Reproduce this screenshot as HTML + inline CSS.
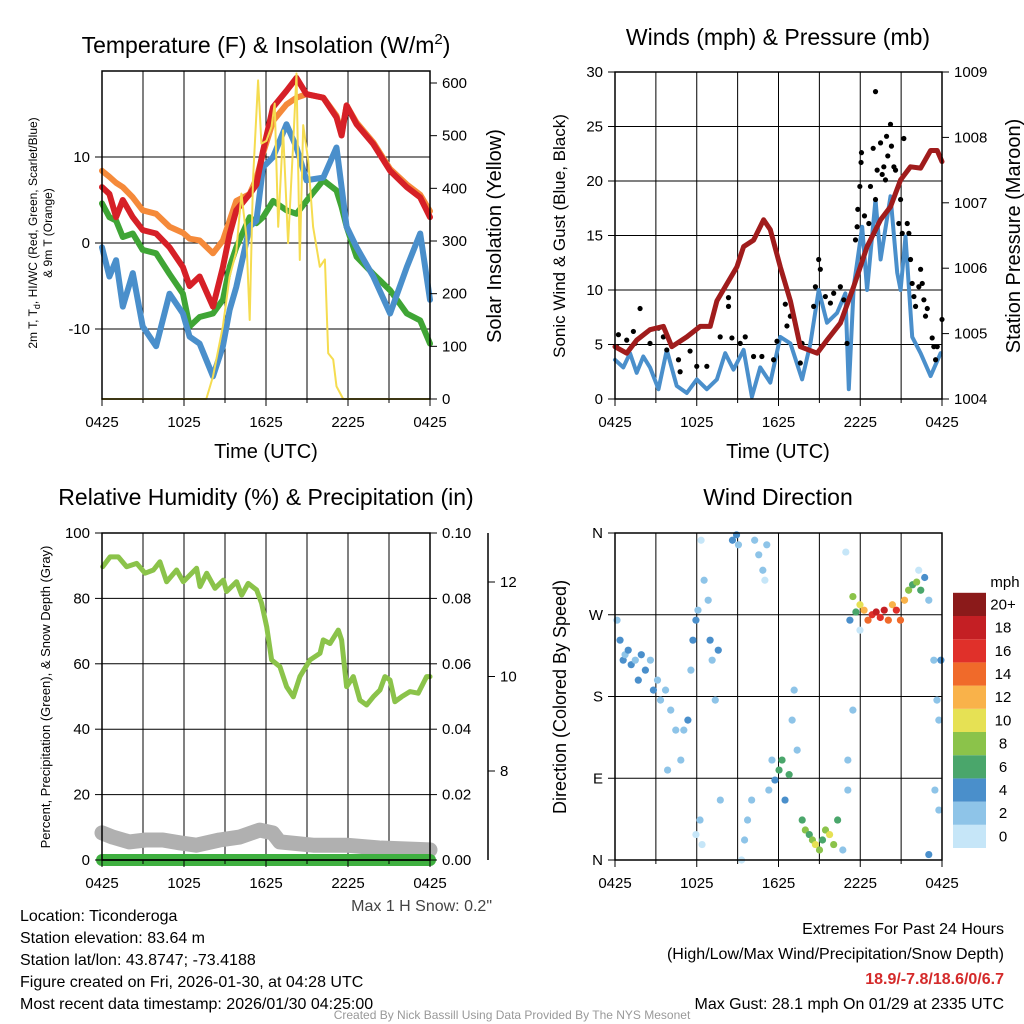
<!DOCTYPE html>
<html><head><meta charset="utf-8">
<style>
body{margin:0;background:#fff;}
svg{display:block;font-family:"Liberation Sans",sans-serif;}
</style></head>
<body>
<svg id="s" width="1024" height="1024" viewBox="0 0 1024 1024" xmlns="http://www.w3.org/2000/svg">
<rect width="1024" height="1024" fill="#fff"/>
<text x="266" y="53" font-size="23" text-anchor="middle">Temperature (F) &amp; Insolation (W/m<tspan dy="-9" font-size="15">2</tspan><tspan dy="9">)</tspan></text>
<text x="778" y="45" font-size="23" text-anchor="middle">Winds (mph) &amp; Pressure (mb)</text>
<text x="266" y="505" font-size="23" text-anchor="middle">Relative Humidity (%) &amp; Precipitation (in)</text>
<text x="778" y="505" font-size="23" text-anchor="middle">Wind Direction</text>
<text x="266" y="458" font-size="20" text-anchor="middle">Time (UTC)</text>
<text x="778" y="458" font-size="20" text-anchor="middle">Time (UTC)</text>
<text transform="translate(37,233) rotate(-90)" font-size="12" text-anchor="middle">2m T, T<tspan dy="3" font-size="9">d</tspan><tspan dy="-3">, HI/WC (Red, Green, Scarlet/Blue)</tspan></text>
<text transform="translate(52,233) rotate(-90)" font-size="12" text-anchor="middle">&amp; 9m T (Orange)</text>
<text transform="translate(501,236) rotate(-90)" font-size="20" text-anchor="middle">Solar Insolation (Yellow)</text>
<text transform="translate(565,236) rotate(-90)" font-size="17" text-anchor="middle">Sonic Wind &amp; Gust (Blue, Black)</text>
<text transform="translate(1020,236) rotate(-90)" font-size="20" text-anchor="middle">Station Pressure (Maroon)</text>
<text transform="translate(50,697) rotate(-90)" font-size="13" text-anchor="middle">Percent, Precipitation (Green), &amp; Snow Depth (Gray)</text>
<text transform="translate(566,697) rotate(-90)" font-size="18" text-anchor="middle">Direction (Colored By Speed)</text>
<text x="492" y="911" font-size="16" fill="#444" text-anchor="end">Max 1 H Snow: 0.2"</text>
<g font-size="16">
<text x="20" y="921">Location: Ticonderoga</text>
<text x="20" y="943">Station elevation: 83.64 m</text>
<text x="20" y="965">Station lat/lon: 43.8747; -73.4188</text>
<text x="20" y="987">Figure created on Fri, 2026-01-30, at 04:28 UTC</text>
<text x="20" y="1009">Most recent data timestamp: 2026/01/30 04:25:00</text>
</g>
<g font-size="16" text-anchor="end">
<text x="1004" y="934">Extremes For Past 24 Hours</text>
<text x="1004" y="959">(High/Low/Max Wind/Precipitation/Snow Depth)</text>
<text x="1004" y="984" fill="#d42a2a" font-weight="bold">18.9/-7.8/18.6/0/6.7</text>
<text x="1004" y="1009">Max Gust: 28.1 mph On 01/29 at 2335 UTC</text>
</g>
<text x="512" y="1019" font-size="12" fill="#999" text-anchor="middle">Created By Nick Bassill Using Data Provided By The NYS Mesonet</text>
<g id="g"></g>
</svg>
<script>
// ---------- data ----------
const xTickLabels = ["0425","1025","1625","2225","0425"];
const tHours = [0,0.54,1.03,1.52,2.25,2.98,3.96,4.94,5.92,6.41,7.14,8.12,8.85,9.34,9.83,10.81,11.3,11.78,12.52,13.5,14.23,14.96,16.19,17.16,17.53,17.9,18.63,19.85,21.08,22.3,23.28,24];
const tempRed = [6.5,5.7,3,5,3,1.5,1.1,-0.5,-2.8,-5,-3.9,-7.4,-2.8,1,3.8,5.7,6.8,10.7,15.8,17.7,19.2,17.3,16.9,14.6,12.5,16,13.8,11.5,8.4,6.5,5.3,3];
const temp9m = [8.4,7.7,7,6.5,5.3,3.8,3.4,1.9,1.2,0.5,0.3,-1.2,0.3,2.6,4.9,5.7,7.5,10.4,14.2,16.1,16.9,17.3,16.9,14.8,12.7,16,14,11.7,8.6,6.8,5.6,3.7];
const dewGreen = [4.6,3,2.6,0.7,1.1,-0.8,-1.2,-3.6,-5.9,-9.7,-8.6,-8.2,-6.6,-2.8,-0.5,3,2.3,3,4.9,3.8,3.4,4.9,7.3,6.1,4.2,1.9,-1.6,-3.6,-5.5,-8.2,-9,-11.7];
const chillBlue = [-0.5,-3.9,-2,-7.4,-3.5,-9.7,-12,-5.9,-8.2,-10.9,-11.7,-15.5,-12,-7.8,-5.1,1.9,2.6,8.8,10,13.8,11.1,7.3,7.6,11.1,6.5,1.9,-0.5,-3.9,-8.2,-2.8,1.1,-6.6];
const solarHours = [0,7.63,8.12,8.85,9.34,9.83,10.2,10.56,10.81,11.05,11.42,11.66,12.03,12.4,12.64,12.89,13.25,13.62,13.99,14.23,14.47,14.72,15.09,15.45,15.94,16.31,16.55,16.92,17.16,17.65,24];
const solar = [0,0,43,138,232,280,390,310,150,416,605,485,490,517,561,327,510,296,485,618,264,520,453,327,251,265,87,75,24,0,0];
const wHours = [0,0.61,1.1,1.59,2.08,2.57,3.19,3.8,4.53,5.27,6,6.74,7.48,8.09,8.7,9.44,10.05,10.66,11.4,12.13,12.87,13.73,14.34,14.95,15.56,16.3,16.91,17.16,17.52,18.14,18.5,19.12,19.49,20.22,20.71,20.96,21.32,21.81,22.43,23.16,23.9];
const windSpeed = [3.6,2.9,4.2,2.4,3.9,2.9,0.9,4.5,1.2,0.55,1.8,0.9,1.8,4.2,2.7,4.5,0.2,2.9,1.5,5.7,5.1,1.8,5.1,10,7,7.9,9.7,0.9,10.3,15.8,10,18.3,12.8,18.6,11.6,10,14.9,5.7,4.2,2.1,4.2];
const gustHours = [0.12,0.25,0.86,1.35,1.84,1.47,2.57,3.19,3.55,3.8,4.66,4.78,5.51,6.0,6.74,7.72,8.33,8.33,8.58,9.19,9.56,10.17,10.78,11.64,11.89,12.5,12.62,12.87,13.6,13.73,14.58,14.95,15.07,14.71,15.44,15.81,16.05,16.54,16.79,17.03,17.65,17.77,17.82,17.97,18.06,18.09,18.31,18.63,18.75,18.95,19.12,19.12,19.24,19.49,19.61,19.73,19.85,19.93,20.02,20.22,20.29,20.47,20.59,20.83,20.96,21.08,21.2,21.45,21.57,21.69,21.81,21.94,22.06,22.3,22.43,22.55,22.67,22.79,22.92,23.28,23.4,23.53,23.65,24.0];
const gust = [4.8,5.9,5.4,6.2,8.3,5.1,5.1,6.5,5.7,4.5,3.6,2.5,4.4,3.0,3.0,5.7,9.3,8.5,5.6,5.1,5.7,3.9,3.9,3.6,5.3,8.7,6.7,7.6,3.3,5.1,8.5,12.8,11.9,10.3,9.4,8.8,9.7,10.3,9.1,5.1,14.6,15.8,17.4,19.5,21.7,22.6,16.8,16.1,19.5,23.0,28.2,18.3,21.0,23.5,20.6,21.3,20.1,24.1,22.3,25.2,23.2,21.3,21.0,16.1,18.3,15.2,23.9,16.1,15.2,12.8,10.6,9.4,8.5,10.3,11.9,10.6,9.1,7.6,8.3,5.6,4.8,3.6,4.8,7.3];
const pHours = [0,0.86,1.59,2.57,3.55,4.17,5.27,6.25,6.99,7.48,8.21,8.95,9.44,10.17,10.91,11.4,12.13,12.87,13.6,14.83,15.56,16.54,17.52,18.5,19.49,20.22,20.96,21.69,22.43,23.16,23.65,24];
const pressure = [1004.8,1004.7,1004.9,1005.06,1005.11,1004.8,1004.95,1005.11,1005.11,1005.5,1005.76,1006.02,1006.33,1006.43,1006.74,1006.59,1006.02,1005.5,1004.8,1004.7,1004.9,1005.16,1005.72,1006.33,1006.74,1006.94,1007.35,1007.55,1007.53,1007.8,1007.8,1007.63];
const rhHours = [0.05,0.59,1.19,1.8,2.54,3.15,3.76,4.24,4.73,5.46,5.95,6.92,7.17,7.66,8.27,8.88,9.12,9.85,10.22,10.7,11.31,11.68,12.05,12.41,13.02,13.51,14.0,14.48,15.22,15.95,16.19,16.68,17.29,17.53,17.9,18.39,18.87,19.36,19.85,20.34,20.7,21.07,21.43,21.92,22.53,23.14,23.75,24];
const rh = [89.7,92.7,92.7,89.7,90.7,87.7,88.7,91.2,85.1,88.7,85.1,89.2,83.6,87.7,83.1,85.6,82.1,85.1,81.0,84.6,82.6,78.5,71.3,61.2,59.1,53.0,49.9,56.1,61.2,63.2,67.3,66.2,70.3,67.3,53.0,56.1,48.9,47.4,49.9,52.0,56.1,55.0,48.4,49.9,51.5,51.0,56.1,56.1];
const snowHours = [0,0.78,2,3.2,4.45,5.67,6.9,8.6,10.07,11.54,12.5,13,15.45,17.9,20.3,24];
const snowDepth = [6.69,6.6,6.5,6.54,6.54,6.48,6.43,6.54,6.6,6.75,6.69,6.5,6.43,6.43,6.37,6.33];
const precip = [0,0];
const dHours=[0.15,0.37,0.6,0.74,0.97,1.19,1.49,1.71,1.93,2.23,2.6,2.82,3.12,3.34,3.71,4.09,4.46,3.86,4.83,5.05,5.35,5.57,5.72,5.94,6.09,6.32,6.54,6.84,6.98,7.13,7.36,7.58,7.73,6.24,6.39,5.94,8.62,8.92,9.06,9.29,9.51,9.73,10.03,10.25,10.55,10.85,11.14,11.0,11.29,11.52,11.74,12.04,12.26,12.48,12.78,13.0,13.15,13.37,13.74,13.97,14.26,14.49,14.71,15.01,15.23,15.45,15.75,16.05,16.34,16.72,16.94,17.09,17.24,17.46,17.68,17.98,18.28,18.57,18.87,19.17,19.47,19.76,20.06,20.36,20.65,20.95,21.25,21.55,21.84,22.14,22.44,22.73,23.03,23.4,23.63,23.77,23.92,23.48,23.77,23.03,22.29,17.98,17.46,17.09];
const dDir=[264,242,220,226,231,215,220,198,226,209,220,187,198,176,187,165,143,99,110,143,154,209,242,264,275,352,308,286,242,220,176,231,66,44,17,28,352,358,347,0,22,44,66,352,336,319,347,308,77,110,88,99,110,66,94,154,187,121,44,33,28,22,17,11,22,33,28,17,44,11,339,110,264,290,273,281,275,264,270,273,267,275,264,281,275,264,286,297,303,306,297,311,286,220,176,154,220,77,55,6,319,253,165,77];
const dSpeed=[2,4,4,2,4,4,2,4,4,4,2,4,2,2,2,2,2,2,2,2,4,2,4,4,2,0,2,2,4,2,2,4,2,2,0,0,4,4,2,0,2,2,2,2,2,2,2,0,2,2,4,6,6,4,6,2,2,2,6,8,6,8,10,8,6,8,10,8,6,2,0,2,4,8,6,10,12,14,16,18,16,18,14,12,16,14,12,8,6,8,6,4,2,2,2,2,4,2,2,4,0,0,2,2];
const cbLabels=["0","2","4","6","8","10","12","14","16","18","20+"];
const cbColors=["#c6e6f8","#8ec4e8","#4a8fcb","#4aa66b","#8bc34a","#e6e154","#f9b24a","#f06a2a","#e0302a","#c41f24","#8b1a1a"];

// ---------- helpers ----------
const NS="http://www.w3.org/2000/svg";
const G=document.getElementById('g');
function mk(tag,attrs,parent){const e=document.createElementNS(NS,tag);for(const k in attrs)e.setAttribute(k,attrs[k]);(parent||G).appendChild(e);return e;}
function lin(d0,d1,r0,r1){return v=>r0+(v-d0)*(r1-r0)/(d1-d0);}
function poly(xs,ys,fx,fy,color,w,name){const p=xs.map((h,i)=>fx(h).toFixed(1)+","+fy(ys[i]).toFixed(1)).join(" ");
 const e=mk('polyline',{points:p,fill:'none',stroke:color,'stroke-width':w,'stroke-linejoin':'round','stroke-linecap':'round'});
 
 return e;}
function txt(x,y,s,anchor,size,name){const e=mk('text',{x:x,y:y,'font-size':size||15,'text-anchor':anchor||'middle'});e.textContent=s;
 
 return e;}
function frame(x0,y0,x1,y1,name){const e=mk('rect',{x:x0,y:y0,width:x1-x0,height:y1-y0,fill:'none',stroke:'#000','stroke-width':1.5});
 
 }
function vgrid(fx,y0,y1){for(let h=3;h<24;h+=3){const l=mk('line',{x1:fx(h),x2:fx(h),y1:y0,y2:y1,stroke:'#000','stroke-width':1});
 
 }}
function hgrid(y,x0,x1){const l=mk('line',{x1:x0,x2:x1,y1:y,y2:y,stroke:'#000','stroke-width':1});
 
 }
function xticks(fx,y){for(let h=0;h<=24;h+=3){const l=mk('line',{x1:fx(h),x2:fx(h),y1:y,y2:y+(h%6===0?7:4),stroke:'#000'});
 
 }
 xTickLabels.forEach((s,i)=>txt(fx(i*6),y+28,s,'middle',15,'x-tick-label'));}
function yticks(fy,vals,x,side,fmt){vals.forEach(v=>{const l=mk('line',{x1:x,x2:x+(side<0?-7:7),y1:fy(v),y2:fy(v),stroke:'#000'});
 
 
 txt(x+(side<0?-12:12),fy(v)+5,fmt?fmt(v):String(v),side<0?'end':'start',15,'y-tick-label');});}

// ---------- Panel 1: temperature ----------
{const x0=102,x1=430,y0=71,y1=399;
 const fx=lin(0,24,x0,x1), fy=lin(-10,10,329,157), fs=lin(0,600,399,83);
 vgrid(fx,y0,y1); [-10,0,10].forEach(v=>hgrid(fy(v),x0,x1));
 poly(tHours,temp9m,fx,fy,'#f58a3a',6,'temp-9m-line');
 poly(tHours,dewGreen,fx,fy,'#3fa535',6,'dewpoint-line');
 poly(tHours,chillBlue,fx,fy,'#4a8fcb',6,'windchill-line');
 poly(tHours,tempRed,fx,fy,'#d62027',6,'temp-2m-line');
 poly(solarHours,solar,fx,fs,'#f5dc50',2,'solar-line');
 frame(x0,y0,x1,y1,'temp-plot-frame');
 xticks(fx,y1); yticks(fy,[-10,0,10],x0,-1); yticks(fs,[0,100,200,300,400,500,600],x1,1);}

// ---------- Panel 2: winds ----------
{const x0=615,x1=942,y0=72,y1=399;
 const fx=lin(0,24,x0,x1), fy=lin(0,30,399,72), fp=lin(1004,1009,399,72);
 vgrid(fx,y0,y1); [5,10,15,20,25].forEach(v=>hgrid(fy(v),x0,x1));
 poly(wHours,windSpeed,fx,fy,'#4a8fcb',4,'wind-speed-line');
 gustHours.forEach((h,i)=>{const c=mk('circle',{cx:fx(h),cy:fy(gust[i]),r:2.6,fill:'#000'});
  
  });
 poly(pHours,pressure,fx,fp,'#a01c1c',5,'pressure-line');
 frame(x0,y0,x1,y1,'wind-plot-frame');
 xticks(fx,y1); yticks(fy,[0,5,10,15,20,25,30],x0,-1); yticks(fp,[1004,1005,1006,1007,1008,1009],x1,1);}

// ---------- Panel 3: RH ----------
{const x0=102,x1=430,y0=533,y1=860;
 const fx=lin(0,24,x0,x1), fy=lin(0,100,860,533), fr=lin(0,0.1,860,533), fsn=lin(8,12,771,582);
 vgrid(fx,y0,y1); [20,40,60,80].forEach(v=>hgrid(fy(v),x0,x1));
 poly(snowHours,snowDepth,fx,fsn,'#b0b0b0',15,'snow-depth-line');
 poly([0,24],precip,fx,fr,'#3fb040',12,'precip-line');
 const bl=mk('line',{x1:x0,x2:x1,y1:y1,y2:y1,stroke:'#000','stroke-width':1.5});
 
 
 poly(rhHours,rh,fx,fy,'#8bc34a',5,'rh-line');
 frame(x0,y0,x1,y1,'rh-plot-frame');
 xticks(fx,y1); yticks(fy,[0,20,40,60,80,100],x0,-1);
 yticks(fr,[0,0.02,0.04,0.06,0.08,0.1],x1,1,v=>v.toFixed(2));
 const ax=mk('line',{x1:488,x2:488,y1:533,y2:860,stroke:'#000','stroke-width':1.5});
 
 
 yticks(fsn,[8,10,12],488,1);}

// ---------- Panel 4: wind direction ----------
{const x0=615,x1=942,y0=533,y1=860;
 const fx=lin(0,24,x0,x1), fy=lin(0,360,860,533);
 vgrid(fx,y0,y1); [90,180,270].forEach(v=>hgrid(fy(v),x0,x1));
 const col=s=>cbColors[Math.min(10,Math.max(0,Math.round(s/2)))];
 dHours.forEach((h,i)=>{const c=mk('circle',{cx:fx(h),cy:fy(dDir[i]),r:3.6,fill:col(dSpeed[i])});
  
  });
 frame(x0,y0,x1,y1,'direction-plot-frame');
 xticks(fx,y1);
 yticks(fy,[0,90,180,270,360],x0,-1,v=>["N","E","S","W","N"][v/90]);
 const bx=953,bw=33,bh=23.2,by=848;
 cbColors.forEach((c,i)=>{const r=mk('rect',{x:bx,y:by-(i+1)*bh,width:bw,height:bh,fill:c});
  
  
  txt(bx+50,by-(i+0.5)*bh+5,cbLabels[i],'middle',15,'colorbar-label');});
 txt(1005,587,'mph','middle',15,'colorbar-title');}
</script>
</body></html>
